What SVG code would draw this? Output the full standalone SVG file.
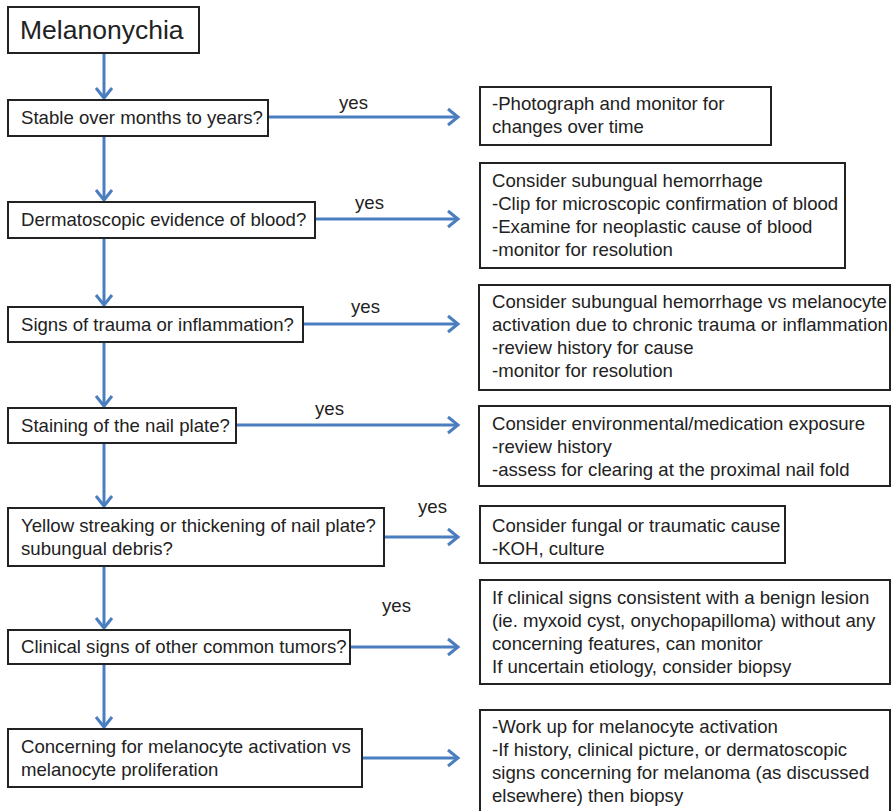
<svg xmlns="http://www.w3.org/2000/svg" width="893" height="811" viewBox="0 0 893 811">
<defs>
<style>
.box{fill:#fff;stroke:#222;stroke-width:2}
text{font-family:"Liberation Sans",Arial,sans-serif;font-size:18.6px;fill:#222}
.title{font-size:26.5px}
.conn line{stroke:#4a7ebf;stroke-width:3;fill:none}
</style>
<marker id="ah" markerUnits="userSpaceOnUse" markerWidth="24" markerHeight="24" viewBox="-12 -12 24 24" refX="0" refY="0" orient="auto" overflow="visible">
<path d="M -10 -8 L 0 0 L -10 8" fill="none" stroke="#4a7ebf" stroke-width="3"/>
</marker>
</defs>
<rect width="893" height="811" fill="#fff"/>

<g id="connectors" class="conn">
<line x1="104" y1="53" x2="104" y2="98" marker-end="url(#ah)"/>
<line x1="104" y1="136" x2="104" y2="200" marker-end="url(#ah)"/>
<line x1="104" y1="238" x2="104" y2="305" marker-end="url(#ah)"/>
<line x1="104" y1="342" x2="104" y2="406" marker-end="url(#ah)"/>
<line x1="104" y1="443" x2="104" y2="506" marker-end="url(#ah)"/>
<line x1="104" y1="566" x2="104" y2="628" marker-end="url(#ah)"/>
<line x1="104" y1="664" x2="104" y2="727" marker-end="url(#ah)"/>
<line x1="268" y1="117" x2="458" y2="117" marker-end="url(#ah)"/>
<line x1="315" y1="219" x2="458" y2="219" marker-end="url(#ah)"/>
<line x1="303" y1="324" x2="458" y2="324" marker-end="url(#ah)"/>
<line x1="236" y1="425" x2="458" y2="425" marker-end="url(#ah)"/>
<line x1="384" y1="537" x2="458" y2="537" marker-end="url(#ah)"/>
<line x1="350" y1="647" x2="458" y2="647" marker-end="url(#ah)"/>
<line x1="362" y1="758" x2="458" y2="758" marker-end="url(#ah)"/>
<text x="339" y="109">yes</text>
<text x="355" y="209">yes</text>
<text x="351" y="313">yes</text>
<text x="315" y="415">yes</text>
<text x="418" y="513">yes</text>
<text x="382" y="612">yes</text>
</g>

<g id="n0"><rect class="box" x="8" y="7" width="191" height="46"/><text class="title" x="20" y="39">Melanonychia</text></g>
<g id="q1"><rect class="box" x="8" y="100" width="260" height="36"/><text x="21" y="124">Stable over months to years?</text></g>
<g id="q2"><rect class="box" x="8" y="202" width="307" height="36"/><text x="21" y="226">Dermatoscopic evidence of blood?</text></g>
<g id="q3"><rect class="box" x="8" y="307" width="295" height="35"/><text x="21" y="331">Signs of trauma or inflammation?</text></g>
<g id="q4"><rect class="box" x="8" y="408" width="228" height="35"/><text x="21" y="432">Staining of the nail plate?</text></g>
<g id="q5"><rect class="box" x="8" y="508" width="376" height="58"/><text x="21" y="532">Yellow streaking or thickening of nail plate?</text><text x="21" y="555">subungual debris?</text></g>
<g id="q6"><rect class="box" x="8" y="630" width="342" height="34"/><text x="21" y="653">Clinical signs of other common tumors?</text></g>
<g id="q7"><rect class="box" x="8" y="729" width="354" height="58"/><text x="21" y="753">Concerning for melanocyte activation vs</text><text x="21" y="776">melanocyte proliferation</text></g>

<g id="a1"><rect class="box" x="480" y="87" width="291" height="58"/><text x="492" y="110">-Photograph and monitor for</text><text x="492" y="133">changes over time</text></g>
<g id="a2"><rect class="box" x="480" y="163" width="365" height="105"/><text x="492" y="187">Consider subungual hemorrhage</text><text x="492" y="210">-Clip for microscopic confirmation of blood</text><text x="492" y="233">-Examine for neoplastic cause of blood</text><text x="492" y="256">-monitor for resolution</text></g>
<g id="a3"><rect class="box" x="479" y="285" width="411" height="105"/><text x="492" y="308">Consider subungual hemorrhage vs melanocyte</text><text x="492" y="331">activation due to chronic trauma or inflammation</text><text x="492" y="354">-review history for cause</text><text x="492" y="377">-monitor for resolution</text></g>
<g id="a4"><rect class="box" x="479" y="406" width="411" height="80"/><text x="492" y="430">Consider environmental/medication exposure</text><text x="492" y="453">-review history</text><text x="492" y="476">-assess for clearing at the proximal nail fold</text></g>
<g id="a5"><rect class="box" x="480" y="506" width="305" height="57"/><text x="492" y="532">Consider fungal or traumatic cause</text><text x="492" y="555">-KOH, culture</text></g>
<g id="a6"><rect class="box" x="480" y="580" width="410" height="104"/><text x="492" y="604">If clinical signs consistent with a benign lesion</text><text x="492" y="627">(ie. myxoid cyst, onychopapilloma) without any</text><text x="492" y="650">concerning features, can monitor</text><text x="492" y="673">If uncertain etiology, consider biopsy</text></g>
<g id="a7"><rect class="box" x="480" y="710" width="410" height="110"/><text x="492" y="733">-Work up for melanocyte activation</text><text x="492" y="756">-If history, clinical picture, or dermatoscopic</text><text x="492" y="779">signs concerning for melanoma (as discussed</text><text x="492" y="802">elsewhere) then biopsy</text></g>
</svg>
